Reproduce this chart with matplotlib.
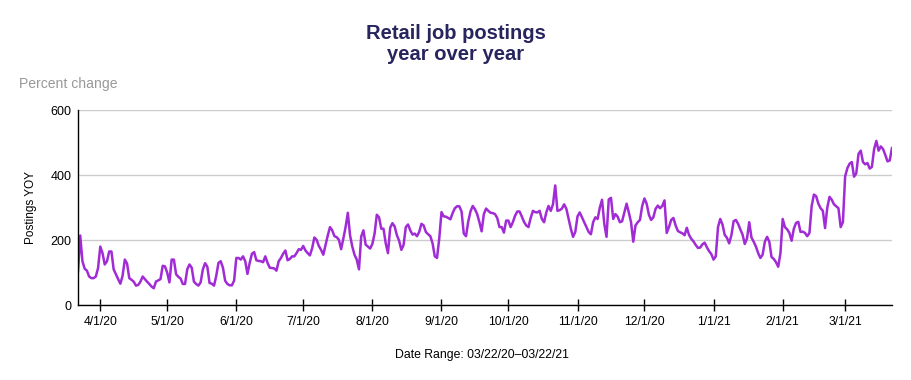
import pandas as pd
import matplotlib.pyplot as plt

plt.rcParams['font.family'] = ['Liberation Sans', 'DejaVu Sans']

# Daily YOY change in retail job postings, 3/22/20 - 3/22/21
start_date = '2020-03-22'
postings_yoy = [
    104, 214, 135, 112, 106, 88, 83,
    83, 88, 114, 180, 160, 125, 135,
    165, 165, 110, 95, 80, 66, 90,
    140, 128, 83, 78, 72, 60, 62,
    72, 88, 80, 72, 65, 57, 52,
    73, 76, 80, 121, 119, 100, 70,
    140, 140, 95, 87, 82, 65, 65,
    110, 125, 115, 72, 65, 60, 70,
    110, 129, 118, 68, 66, 60, 90,
    130, 135, 115, 75, 65, 61, 61,
    75, 145, 145, 140, 150, 135, 96,
    130, 158, 163, 138, 136, 135, 132,
    150, 130, 115, 114, 113, 106, 135,
    145, 158, 168, 138, 142, 150, 150,
    160, 172, 170, 182, 168, 160, 153,
    175, 208, 201, 182, 170, 155, 185,
    214, 240, 230, 212, 209, 201, 172,
    205, 240, 284, 215, 180, 155, 140,
    110, 211, 230, 186, 180, 174, 188,
    220, 278, 270, 235, 235, 190, 160,
    238, 252, 242, 215, 198, 170, 185,
    240, 248, 230, 217, 220, 212, 225,
    250, 245, 225, 218, 212, 190, 150,
    145, 205, 286, 273, 272, 268, 264,
    283, 298, 304, 304, 288, 220, 212,
    257, 288, 305, 295, 280, 255, 227,
    280, 297, 290, 284, 283, 280, 268,
    240, 240, 223, 260, 260, 240, 255,
    275, 288, 288, 273, 256, 245, 240,
    268, 290, 286, 285, 290, 265, 255,
    285, 305, 290, 310, 368, 290, 292,
    297, 310, 296, 265, 235, 210, 225,
    273, 285, 270, 255, 240, 225, 218,
    255, 270, 265, 300, 324, 250, 210,
    325, 330, 265, 280, 272, 255, 258,
    285, 312, 285, 255, 195, 245, 255,
    262, 305, 328, 312, 278, 262, 270,
    296, 306, 298, 305, 322, 222, 240,
    262, 268, 245, 228, 224, 221, 215,
    238, 216, 204, 196, 185, 176, 177,
    187, 192, 178, 166, 157, 140, 150,
    240, 265, 248, 216, 207, 190, 215,
    258, 262, 250, 233, 217, 188, 205,
    255, 208, 195, 180, 160, 145, 155,
    195, 210, 195, 148, 142, 132, 118,
    160, 265, 240, 233, 222, 198, 235,
    253, 256, 225, 226, 222, 212, 222,
    305, 340, 335, 312, 298, 290, 237,
    300, 333, 324, 310, 304, 298, 240,
    255, 396, 421, 435, 440, 395, 405,
    465, 475, 440, 433, 437, 420, 425,
    480, 505, 475, 488, 480, 462, 442,
    445, 483,
]
tick_dates = ['2020-04-01', '2020-05-01', '2020-06-01', '2020-07-01', '2020-08-01',
              '2020-09-01', '2020-10-01', '2020-11-01', '2020-12-01', '2021-01-01',
              '2021-02-01', '2021-03-01']
tick_labels = ['4/1/20', '5/1/20', '6/1/20', '7/1/20', '8/1/20', '9/1/20',
               '10/1/20', '11/1/20', '12/1/20', '1/1/21', '2/1/21', '3/1/21']
y_ticks = [0, 200, 400, 600]

dates = pd.date_range(start_date, periods=len(postings_yoy), freq='D')

fig = plt.figure(figsize=(9.11, 3.8), dpi=100)
ax = fig.add_axes([0.0856, 0.197, 0.8935, 0.5135])

ax.plot(dates, postings_yoy, color='#A12BD5', linewidth=1.8, solid_joinstyle='round')

ax.set_xlim(dates[0], dates[-1])
ax.set_ylim(0, 600)
ax.set_yticks(y_ticks)
ax.grid(axis='y', color='#cccccc', linewidth=1)
ax.set_axisbelow(True)

ax.set_xticks(pd.to_datetime(tick_dates))
ax.set_xticklabels(tick_labels)
ax.tick_params(axis='x', direction='inout', length=8, width=1, labelsize=8.7, pad=4)
ax.tick_params(axis='y', length=0, labelsize=9, pad=4.5)

for side in ['top', 'right']:
    ax.spines[side].set_visible(False)
for side in ['left', 'bottom']:
    ax.spines[side].set_color('black')
    ax.spines[side].set_linewidth(1)

ax.set_ylabel('Postings YOY', fontsize=8.5, labelpad=10)

# Titles and notes
fig.text(0.5, 0.885, 'Retail job postings\nyear over year', ha='center', va='center',
         fontsize=14.5, fontweight='bold', color='#27255e', linespacing=1.15)
fig.text(0.021, 0.778, 'Percent change', ha='left', va='center', fontsize=10.1, color='#999999')
fig.text(0.529, 0.066, 'Date Range: 03/22/20\u201303/22/21', ha='center', va='center', fontsize=8.8)

plt.savefig('out.png', dpi=100)
